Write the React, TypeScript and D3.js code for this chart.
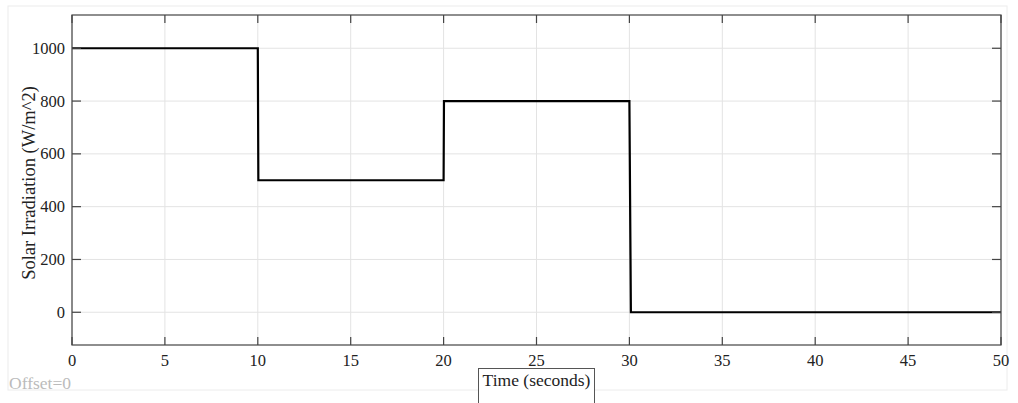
import React from "react";
import * as d3 from "d3";

const times = [0, 10, 10.03, 20, 20.02, 30, 30.08, 50];
const values = [1000, 1000, 500, 500, 800, 800, 0, 0];
const xTicks = [0, 5, 10, 15, 20, 25, 30, 35, 40, 45, 50];
const yTicks = [0, 200, 400, 600, 800, 1000];

const W = 1018, H = 403;
const M = { left: 72, right: 1001, top: 15, bottom: 345 };

export default function App() {
  const x = d3.scaleLinear().domain([0, 50]).range([M.left, M.right]);
  const y = d3.scaleLinear().domain([-124, 1126]).range([M.bottom, M.top]);
  const pts = times.map((t, i) => [t, values[i]] as [number, number]);
  const line = d3.line<[number, number]>().x(d => x(d[0])).y(d => y(d[1]));
  const font = "'Liberation Serif', 'Times New Roman', serif";
  return (
    <svg width={W} height={H} style={{ position: "absolute", left: 0, top: 0, background: "#fff" }}>
      <rect x={8} y={6} width={999} height={384} fill="#fff" stroke="#ececec" strokeWidth={1} />
      {xTicks.map(t => (
        <line key={"gx" + t} x1={x(t)} x2={x(t)} y1={M.top} y2={M.bottom} stroke="#e3e3e3" strokeWidth={1} />
      ))}
      {yTicks.map(t => (
        <line key={"gy" + t} x1={M.left} x2={M.right} y1={y(t)} y2={y(t)} stroke="#e3e3e3" strokeWidth={1} />
      ))}
      <path d={line(pts) || ""} fill="none" stroke="#000" strokeWidth={2.2} />
      <rect x={M.left} y={M.top} width={M.right - M.left} height={M.bottom - M.top} fill="none" stroke="#444" strokeWidth={1.2} />
      {xTicks.map(t => (
        <g key={"tx" + t}>
          <line x1={x(t)} x2={x(t)} y1={M.bottom} y2={M.bottom - 8} stroke="#444" strokeWidth={1.2} />
          <line x1={x(t)} x2={x(t)} y1={M.top} y2={M.top + 8} stroke="#444" strokeWidth={1.2} />
          <text x={x(t)} y={366} textAnchor="middle" fontFamily={font} fontSize={16.5} fill="#222">{t}</text>
        </g>
      ))}
      {yTicks.map(t => (
        <g key={"ty" + t}>
          <line x1={M.left} x2={M.left + 9} y1={y(t)} y2={y(t)} stroke="#444" strokeWidth={1.2} />
          <line x1={M.right} x2={M.right - 9} y1={y(t)} y2={y(t)} stroke="#444" strokeWidth={1.2} />
          <text x={M.left - 7} y={y(t) + 5.5} textAnchor="end" fontFamily={font} fontSize={16.5} fill="#222">{t}</text>
        </g>
      ))}
      <text transform={`translate(35, 183) rotate(-90)`} textAnchor="middle" fontFamily={font} fontSize={18.5} fill="#222">Solar Irradiation (W/m^2)</text>
      <rect x={478.5} y={368.5} width={116} height={40} fill="#fff" stroke="#555" strokeWidth={1} />
      <text x={536.5} y={386} textAnchor="middle" fontFamily={font} fontSize={17.5} fill="#222">Time (seconds)</text>
      <text x={9} y={389} fontFamily={font} fontSize={17.5} fill="#bbb">Offset=0</text>
    </svg>
  );
}
